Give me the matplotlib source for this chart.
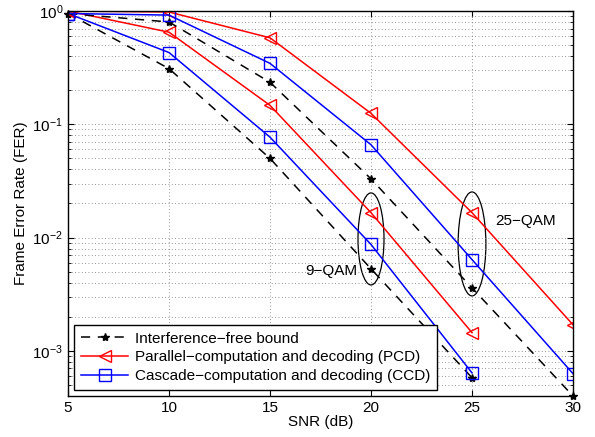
import matplotlib
matplotlib.use("Agg")
import matplotlib.pyplot as plt
from matplotlib.patches import Ellipse
from matplotlib.ticker import LogLocator, NullFormatter

plt.rcParams['font.family'] = ['Liberation Sans', 'DejaVu Sans']
plt.rcParams['mathtext.fontset'] = 'custom'
plt.rcParams['mathtext.rm'] = 'Liberation Sans'

snr_9 = [5, 10, 15, 20, 25]
snr_25 = [5, 10, 15, 20, 25, 30]

bound_9 = [0.95, 0.31, 0.05, 0.0053, 5.8e-4]
pcd_9 = [1.0, 0.65, 0.147, 0.0166, 1.45e-3]
ccd_9 = [0.95, 0.43, 0.077, 0.0087, 6.4e-4]

bound_25 = [0.95, 0.80, 0.235, 0.033, 3.6e-3, 4.0e-4]
pcd_25 = [1.0, 0.98, 0.58, 0.125, 0.0166, 1.7e-3]
ccd_25 = [0.95, 0.92, 0.345, 0.066, 0.0064, 6.3e-4]

labels = ['Interference\u2212free bound',
          'Parallel\u2212computation and decoding (PCD)',
          'Cascade\u2212computation and decoding (CCD)']

fig = plt.figure(figsize=(5.95, 4.37), dpi=100)
ax = fig.add_axes([68/595, 1-396/437, 505/595, 385/437])

bstyle = dict(color='black', linestyle=(0, (6, 5)), marker='*', markersize=6, linewidth=1.1)
rstyle = dict(color='red', marker='<', markersize=9, markerfacecolor='none', linewidth=1.1, markeredgewidth=1.0)
cstyle = dict(color='blue', marker='s', markersize=8, markerfacecolor='none', linewidth=1.1, markeredgewidth=1.0)

l1, = ax.semilogy(snr_9, bound_9, **bstyle)
l2, = ax.semilogy(snr_9, pcd_9, **rstyle)
l3, = ax.semilogy(snr_9, ccd_9, **cstyle)
ax.semilogy(snr_25, bound_25, clip_on=False, **bstyle)
ax.semilogy(snr_25, pcd_25, **rstyle)
ax.semilogy(snr_25, ccd_25, **cstyle)

ax.set_xlim(5, 30)
ax.set_ylim(4e-4, 1)
ax.set_xticks([5, 10, 15, 20, 25, 30])
ax.yaxis.set_major_locator(LogLocator(base=10, numticks=10))
ax.yaxis.set_minor_locator(LogLocator(base=10, subs=range(2, 10), numticks=20))
ax.yaxis.set_minor_formatter(NullFormatter())
ax.tick_params(which='both', direction='in', top=True, right=True, labelsize=11)
ax.tick_params(which='major', length=4)
ax.tick_params(which='minor', length=2.5)
ax.grid(True, which='major', linestyle=(0, (1, 3)), color='0.45', linewidth=0.6)
ax.grid(True, which='minor', axis='y', linestyle=(0, (1, 3)), color='0.45', linewidth=0.6)
for s in ax.spines.values():
    s.set_linewidth(1.0)

ax.set_xlabel('SNR (dB)', fontsize=11, labelpad=0)
ax.set_ylabel('Frame Error Rate (FER)', fontsize=11, labelpad=3)

ax.add_patch(Ellipse((0.600, 0.408), 0.0515, 0.239, transform=ax.transAxes,
                     fill=False, edgecolor='black', linewidth=0.9))
ax.add_patch(Ellipse((0.800, 0.395), 0.055, 0.27, transform=ax.transAxes,
                     fill=False, edgecolor='black', linewidth=0.9))
ax.text((331-68)/505, (396-271)/385, '9\u2212QAM', transform=ax.transAxes,
        ha='center', va='center', fontsize=11)
ax.text((526-68)/505, (396-221)/385, '25\u2212QAM', transform=ax.transAxes,
        ha='center', va='center', fontsize=11)

leg = ax.legend([l1, l2, l3], labels, loc='lower left', fontsize=11,
                fancybox=False, framealpha=1, edgecolor='black',
                borderaxespad=0.4, handlelength=3.1, labelspacing=0.3,
                borderpad=0.45, handletextpad=0.45)
leg.get_frame().set_linewidth(1.0)

fig.savefig('out.png', dpi=100)
